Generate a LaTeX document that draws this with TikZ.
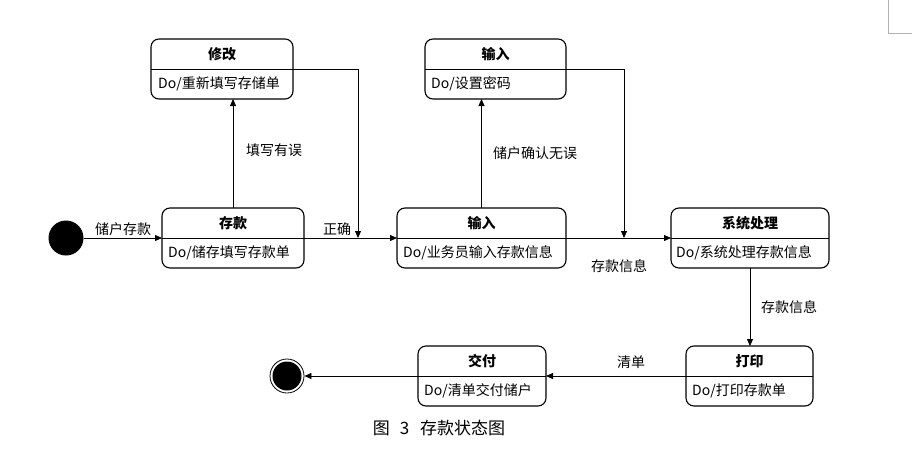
\documentclass[tikz,border=0pt]{standalone}
\usepackage{fontspec}
\setmainfont{Noto Sans CJK SC}
\usetikzlibrary{arrows.meta}

\begin{document}
\begin{tikzpicture}[x=1pt,y=-1pt,
	state/.style={draw,rounded corners=8pt,line width=1.1pt,minimum height=60pt,inner sep=0pt,outer sep=0pt},
	title/.style={font=\fontsize{14}{16}\selectfont\bfseries,inner sep=0pt},
	body/.style={font=\fontsize{14}{16}\selectfont,inner sep=0pt,anchor=west},
	lbl/.style={font=\fontsize{14}{16}\selectfont,inner sep=0pt},
	arr/.style={line width=0.8pt,-{Triangle[length=7pt,width=6pt]}}]
	\useasboundingbox (0,0) rectangle (912,455);
	\draw[gray!60,line width=0.8pt] (888,0)--(888,33)--(912,33);	%page corner mark
	
	%STATES
	\node[state,minimum width=142pt] (xiugai)  at (222,69)    {};
	\node[state,minimum width=142pt] (cunkuan) at (233,238)   {};
	\node[state,minimum width=169pt] (shuru)   at (481.5,238) {};
	\node[state,minimum width=141pt] (shezhi)  at (495.5,69)  {};
	\node[state,minimum width=158pt] (xitong)  at (750,238)   {};
	\node[state,minimum width=127pt] (dayin)   at (749.5,376) {};
	\node[state,minimum width=128pt] (jiaofu)  at (482,376)   {};
	\foreach \s in {xiugai,cunkuan,shuru,shezhi,xitong,dayin,jiaofu}
		\draw[line width=1pt] (\s.west)--(\s.east);	%dividers
	
	%TITLES AND ACTIONS
	\node[title] at ([yshift=15pt]xiugai.center)  {修改};
	\node[body]  at ([xshift=7pt,yshift=-15pt]xiugai.west)  {Do/重新填写存储单};
	\node[title] at ([yshift=15pt]cunkuan.center) {存款};
	\node[body]  at ([xshift=6pt,yshift=-15pt]cunkuan.west) {Do/储存填写存款单};
	\node[title] at ([yshift=15pt]shuru.center)   {输入};
	\node[body]  at ([xshift=6pt,yshift=-15pt]shuru.west)   {Do/业务员输入存款信息};
	\node[title] at ([yshift=15pt]shezhi.center)  {输入};
	\node[body]  at ([xshift=6pt,yshift=-15pt]shezhi.west)  {Do/设置密码};
	\node[title] at ([yshift=15pt]xitong.center)  {系统处理};
	\node[body]  at ([xshift=5pt,yshift=-15pt]xitong.west)  {Do/系统处理存款信息};
	\node[title] at ([yshift=15pt]dayin.center)   {打印};
	\node[body]  at ([xshift=6pt,yshift=-15pt]dayin.west)   {Do/打印存款单};
	\node[title] at ([yshift=15pt]jiaofu.center)  {交付};
	\node[body]  at ([xshift=6pt,yshift=-15pt]jiaofu.west)  {Do/清单交付储户};
	
	%START AND END
	\node[circle,fill=black,minimum size=35pt,inner sep=0pt] (start) at (66,238) {};
	\node[circle,draw,line width=0.8pt,minimum size=34pt,inner sep=0pt] (stop) at (287,376) {};
	\fill (stop.center) circle (14.5pt);
	
	%TRANSITIONS
	\coordinate (zq) at (358,238);
	\coordinate (xx) at (624,238);
	\draw[arr] (start)--(cunkuan.west);
	\draw[arr] (cunkuan.north)--(cunkuan.north |- xiugai.south);
	\draw[arr] (xiugai.east)-|(zq);
	\draw[arr] (cunkuan.east)--(shuru.west);
	\draw[arr] (shuru.north)--(shuru.north |- shezhi.south);
	\draw[arr] (shezhi.east)-|(xx);
	\draw[arr] (shuru.east)--(xitong.west);
	\draw[arr] (xitong.south)--(xitong.south |- dayin.north);
	\draw[arr] (dayin.west)--(jiaofu.east);
	\draw[arr] (jiaofu.west)--(stop.east);
	
	%LABELS
	\node[lbl] (l1) at (123,229) {储户存款};
	\node[lbl] (l2) at (274,150) {填写有误};
	\node[lbl] (l3) at (337,229) {正确};
	\node[lbl] (l4) at (535,153) {储户确认无误};
	\node[lbl] (l5) at (619,266) {存款信息};
	\node[lbl] (l6) at (789,307) {存款信息};
	\node[lbl] (l7) at (631,362) {清单};
	\node[font=\fontsize{17}{20}\selectfont,inner sep=0pt] (cap) at (439,428) {图\hspace{10pt}3\hspace{11pt}存款状态图};
\end{tikzpicture}
\end{document}
